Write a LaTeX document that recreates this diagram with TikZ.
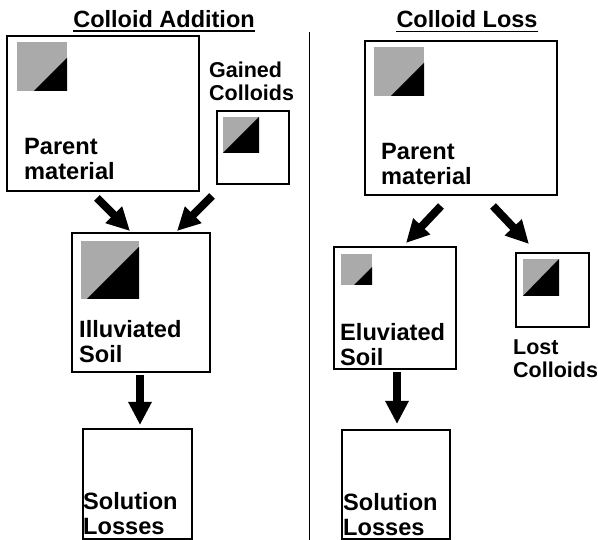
\documentclass[tikz,border=0pt]{standalone}
\usepackage{fontspec}
\setmainfont{Liberation Sans}
\usetikzlibrary{arrows.meta}
\definecolor{colgray}{RGB}{170,170,170}
\tikzset{
  box/.style={draw, line width=2pt, inner sep=0pt},
  lbl/.style={anchor=north west, inner sep=0pt, align=left, font=\fontsize{23.6}{25}\selectfont\bfseries},
  smalllbl/.style={anchor=north west, inner sep=0pt, align=left, font=\fontsize{21.5}{22.5}\selectfont\bfseries},
  titlelbl/.style={anchor=north, inner sep=0pt, font=\fontsize{23.5}{25}\selectfont\bfseries},
  bigarrow/.style={line width=8pt, -{Triangle[width=22pt,length=23pt]}},
}
\begin{document}
\begin{tikzpicture}[x=1pt,y=-1pt]
\useasboundingbox (0,0) rectangle (598,540);
% titles
\node[titlelbl] (tL) at (164,10) {Colloid Addition};
\draw[line width=1.6pt] ([yshift=-3.5pt]tL.south west) -- ([yshift=-3.5pt]tL.south east);
\node[titlelbl] (tR) at (467,10) {Colloid Loss};
\draw[line width=1.6pt] ([yshift=-4pt]tR.south west) -- ([yshift=-4pt]tR.south east);
% separator
\draw[line width=1.6pt] (309.5,32) -- (309.5,540);

% boxes
\node[box, minimum width=192pt, minimum height=155pt] (pmL) at (103,113.5) {};
\node[box, minimum width=72pt, minimum height=73pt] (gain) at (253,147.5) {};
\node[box, minimum width=138pt, minimum height=139pt] (illu) at (141,302.5) {};
\node[box, minimum width=109pt, minimum height=110pt] (solL) at (137.5,484) {};
\node[box, minimum width=192pt, minimum height=154pt] (pmR) at (461,118) {};
\node[box, minimum width=122pt, minimum height=122pt] (elu) at (395,308) {};
\node[box, minimum width=73pt, minimum height=74pt] (lost) at (552.5,290) {};
\node[box, minimum width=108pt, minimum height=109pt] (solR) at (396,484.5) {};

% colloid squares
\fill[colgray] (17,42) rectangle (67,91);
\fill (34,91) -- (67,91) -- (67,58) -- cycle;
\fill[colgray] (223,117) rectangle (259,153);
\fill (223,153) -- (259,153) -- (259,117) -- cycle;
\fill[colgray] (81,241) rectangle (139,299);
\fill (87,299) -- (139,299) -- (139,247) -- cycle;
\fill[colgray] (374,47) rectangle (424,96);
\fill (391,96) -- (424,96) -- (424,63) -- cycle;
\fill[colgray] (341,254) rectangle (372,285);
\fill (354,285) -- (372,285) -- (372,267) -- cycle;
\fill[colgray] (523,259) rectangle (559,296);
\fill (523,296) -- (559,296) -- (559,259) -- cycle;

% labels
\node[lbl] (lpmL) at (24,138) {Parent\\material};
\node[smalllbl] (lgain) at (209,62) {Gained\\Colloids};
\node[lbl] (lpmR) at (381,143) {Parent\\material};
\node[lbl] (lillu) at (79,320) {Illuviated\\Soil};
\node[lbl] (lelu) at (340,323) {Eluviated\\Soil};
\node[lbl] (lsolL) at (83,492) {Solution\\Losses};
\node[lbl] (lsolR) at (343,493) {Solution\\Losses};
\node[smalllbl] (llost) at (513,340) {Lost\\Colloids};

% arrows
\draw[bigarrow] ([xshift=-6pt,yshift=-6pt]pmL.south) -- ([xshift=-11pt,yshift=1pt]illu.north);
\draw[bigarrow] ([xshift=-41pt,yshift=-11pt]gain.south) -- ([xshift=36pt,yshift=1pt]illu.north);
\draw[bigarrow] ([xshift=-1pt,yshift=-2pt]illu.south) -- ([xshift=2.5pt,yshift=3pt]solL.north);
\draw[bigarrow] ([xshift=-20pt,yshift=-10pt]pmR.south) -- ([xshift=11pt,yshift=3pt]elu.north);
\draw[bigarrow] ([xshift=32pt,yshift=-10pt]pmR.south) -- ([xshift=-23.5pt,yshift=8pt]lost.north);
\draw[bigarrow] ([xshift=2pt,yshift=-2pt]elu.south) -- ([xshift=1pt,yshift=5pt]solR.north);
\end{tikzpicture}
\end{document}
